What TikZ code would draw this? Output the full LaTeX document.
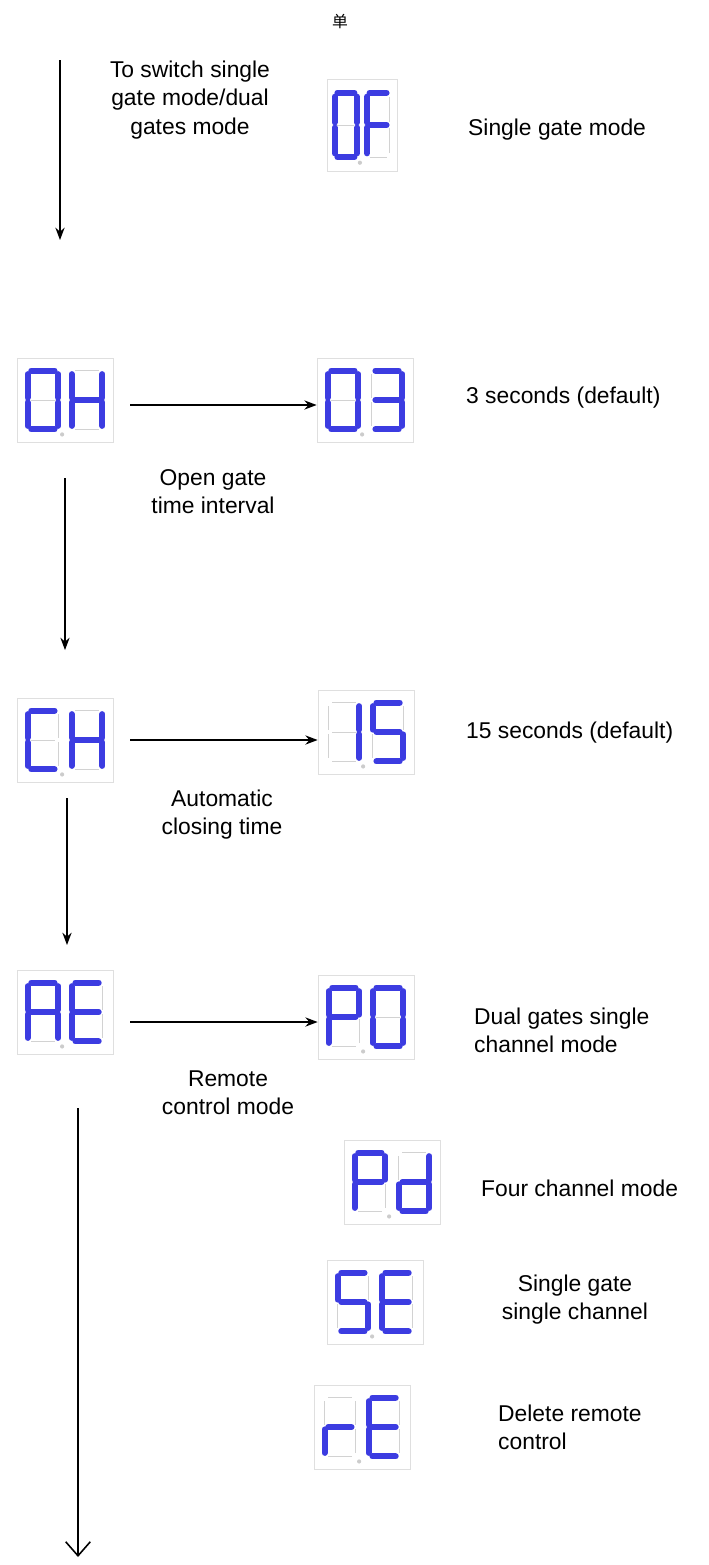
\documentclass[tikz,border=0pt]{standalone}
\usepackage{fontspec}
\setmainfont{Liberation Sans}
\newfontfamily\cjk{Noto Sans CJK SC}
\usetikzlibrary{arrows.meta}
\definecolor{segblue}{RGB}{60,60,225}
\tikzset{
  seg/a/.style={insert path={(0.12,0)--(0.88,0)}},
  seg/b/.style={insert path={(1,0.06)--(1,0.46)}},
  seg/c/.style={insert path={(1,0.54)--(1,0.94)}},
  seg/d/.style={insert path={(0.12,1)--(0.88,1)}},
  seg/e/.style={insert path={(0,0.54)--(0,0.94)}},
  seg/f/.style={insert path={(0,0.06)--(0,0.46)}},
  seg/g/.style={insert path={(0.12,0.5)--(0.88,0.5)}},
  segoff/.style={draw=gray!35,line width=0.5pt},
  segon/.style={draw=segblue,line width=3.4pt,line cap=round},
  frame/.style={draw=gray!25,line width=0.4pt,rectangle},
  label/.style={font=\fontsize{13}{16}\selectfont,align=left,anchor=west},
  caption/.style={font=\fontsize{13}{16}\selectfont,align=center},
  flow/.style={-{Stealth[length=7pt]},line width=0.9pt}
}
% one digit: x, y of top left corner, display width, height, lit segments
\newcommand\segdigit[5]{%
  \pgfmathsetmacro\dw{#3*0.0064}\pgfmathsetmacro\dh{#4*0.014}
  \begin{scope}[shift={(#1,#2)},x=\dw cm,y=-\dh cm]
    \foreach \s in {a,b,c,d,e,f,g} \path[segoff,seg/\s];
    \foreach \s in {#5} \path[segon,seg/\s];
  \end{scope}}
% display: name, centre x, y, width, height, left digit, right digit
\newcommand\segdisp[7]{%
  \node[frame,minimum width=#4*0.02cm,minimum height=#5*0.02cm] (#1) at (#2,#3) {};
  \segdigit{#2-0.39*#4}{#3-0.35*#5}{#4}{#5}{#6}
  \segdigit{#2+0.07*#4}{#3-0.35*#5}{#4}{#5}{#7}
  \fill[gray!40] (#2-0.03*#4,#3+0.41*#5) circle (1.2pt);}
\begin{document}
\begin{tikzpicture}[x=0.02cm,y=-0.02cm]
\useasboundingbox (0,0) rectangle (709,1565);

\node[font=\cjk\small] (dan) at (340,22) {单};
\segdisp{of}{362}{125}{70}{92}{a,b,c,d,e,f}{a,e,f,g}
\segdisp{oh}{65}{400}{96}{84}{a,b,c,d,e,f}{b,c,e,f,g}
\segdisp{tre}{365}{400}{96}{84}{a,b,c,d,e,f}{a,b,c,d,g}
\segdisp{ch}{65}{740}{96}{84}{a,d,e,f}{b,c,e,f,g}
\segdisp{fif}{366}{732}{96}{84}{b,c}{a,c,d,f,g}
\segdisp{ae}{65}{1012}{96}{84}{a,b,c,e,f,g}{a,d,e,f,g}
\segdisp{po}{366}{1017}{96}{84}{a,b,e,f,g}{a,b,c,d,e,f}
\segdisp{pd}{392}{1182}{96}{84}{a,b,e,f,g}{b,c,d,e,g}
\segdisp{se}{375}{1302}{96}{84}{a,c,d,f,g}{a,d,e,f,g}
\segdisp{re}{362}{1427}{96}{84}{e,g}{a,d,e,f,g}

\node[caption] (sw) at (190,100) {To switch single\\gate mode/dual\\gates mode};
\node[label] (ofl) at (462,130) {Single gate mode};
\node[label] (trel) at (460,398) {3 seconds (default)};
\node[caption] (ohl) at (213,492) {Open gate\\time interval};
\node[label] (fifl) at (460,733) {15 seconds (default)};
\node[caption] (chl) at (222,815) {Automatic\\closing time};
\node[label] (pol) at (468,1030) {Dual gates single\\channel mode};
\node[caption] (ael) at (228,1093) {Remote\\control mode};
\node[label] (pdl) at (475,1188) {Four channel mode};
\node[caption] (sel) at (575,1300) {Single gate\\single channel};
\node[label] (rel) at (492,1427) {Delete remote\\control};

\coordinate (s0) at (60,60);
\coordinate (s1) at (60,240);
\coordinate (e0) at (78,1108);
\coordinate (e1) at (78,1557);
\draw[flow] (s0) -- (s1);
\draw[flow] (130,405) -- (tre.west |- 0,405);
\draw[-{Stealth[length=7pt]},line width=0.6pt] (65,478) -- (65,650);
\draw[flow] (130,740) -- (fif.west |- 0,740);
\draw[flow] (67,798) -- (67,945);
\draw[flow] (130,1022) -- (po.west |- 0,1022);
\draw[-{Straight Barb[length=8pt,width=14pt]},line width=0.9pt] (e0) -- (e1);
\end{tikzpicture}
\end{document}
